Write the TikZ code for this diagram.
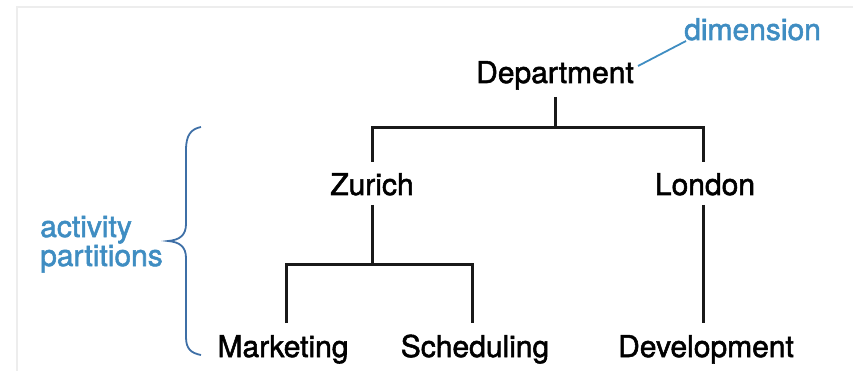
\documentclass[tikz,border=0pt]{standalone}
\usepackage{fontspec}
\setmainfont[FakeBold=1.8]{TeX Gyre Heros}
\definecolor{notecol}{HTML}{3F8DC2}
\definecolor{bracecol}{HTML}{3E6FA6}
\definecolor{framecol}{HTML}{EDEDED}
\begin{document}
\begin{tikzpicture}[x=1pt,y=-1pt,
  label/.style={font=\fontsize{30}{30}\selectfont, inner sep=0pt, anchor=base},
  note/.style={label, text=notecol},
  tree/.style={line width=3pt, black!90},
  noteline/.style={line width=1.8pt, notecol}]
  \useasboundingbox (0,0) rectangle (853,371);
  % faint frame along the top and left edges
  \draw[framecol, line width=2pt] (17,371) -- (17,7) -- (853,7);

  % tree labels
  \node[label] (dept) at (555,83) {Department};
  \node[label] (zur)  at (372,195) {Zurich};
  \node[label] (lon)  at (705,195) {London};
  \node[label] (mkt)  at (283,357) {Marketing};
  \node[label] (sch)  at (475,357) {Scheduling};
  \node[label] (dev)  at (706,357) {Development};

  % junction points of the tree
  \coordinate (j1) at (555,128);
  \coordinate (j2) at (372,264);

  % Department -> Zurich / London
  \draw[tree] (555,97) -- (j1);
  \draw[tree] (372,162) |- (703,128) -- (703,162);
  % Zurich -> Marketing / Scheduling
  \draw[tree] (372,205) -- (j2);
  \draw[tree] (286,323) |- (472,264) -- (472,323);
  % London -> Development
  \draw[tree] (703,205) -- (703,323);

  % annotations
  \node[note, anchor=base west] (dim) at (684,40) {dimension};
  \draw[noteline] (dept.east |- 0,66) ++(4,0) -- (686,41);
  \node[note, anchor=base west] (act) at (40,237) {activity};
  \node[note, anchor=base west] (par) at (40,266) {partitions};

  % brace grouping the partition levels
  \draw[bracecol, line width=1.8pt]
    (201,127) .. controls (191,129) and (186,135) .. (186,150)
    -- (186,224) .. controls (186,235) and (180,240) .. (168,241)
    .. controls (180,242) and (186,247) .. (186,258)
    -- (186,337) .. controls (186,349) and (191,353) .. (201,355);
\end{tikzpicture}
\end{document}
